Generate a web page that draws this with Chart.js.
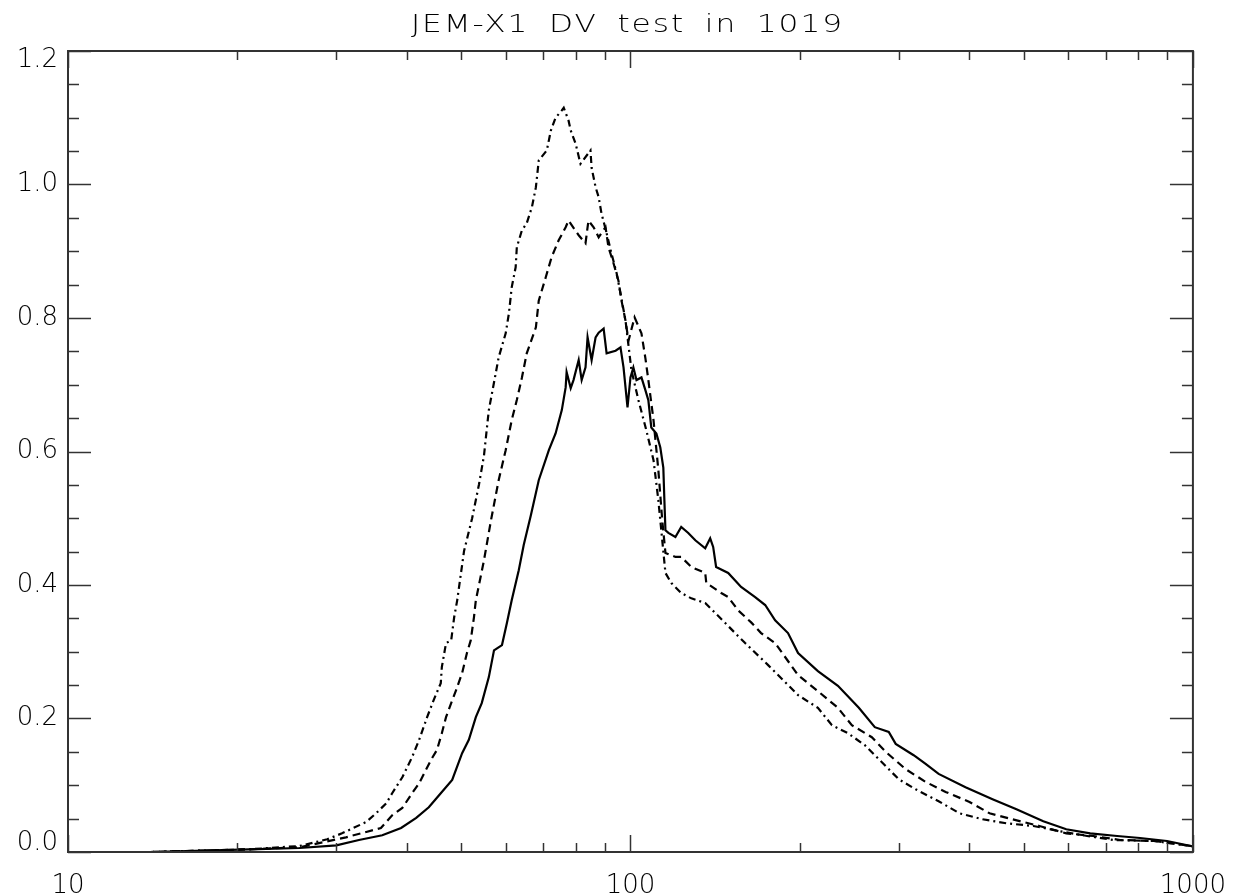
<!DOCTYPE html>
<html>
<head>
<meta charset="utf-8">
<title>JEM-X1 DV test in 1019</title>
<script src="https://cdn.jsdelivr.net/npm/chart.js@4.4.1/dist/chart.umd.min.js"></script>
<style>
  html, body { margin: 0; padding: 0; background: #fff; }
  canvas { display: block; }
</style>
</head>
<body>
<canvas id="chart" width="1245" height="896"></canvas>
<script>
// Title and axis ticks
const titleText = 'JEM-X1 DV test in 1019';
const xTickValues = [10, 100, 1000];
const xTickLabels = ['10', '100', '1000'];
const xMinorTicks = [20, 30, 40, 50, 60, 70, 80, 90, 200, 300, 400, 500, 600, 700, 800, 900];
const yTickValues = [0, 0.2, 0.4, 0.6, 0.8, 1.0, 1.2];
const yTickLabels = ['0.0', '0.2', '0.4', '0.6', '0.8', '1.0', '1.2'];
const yMinorTicks = [0.05, 0.1, 0.15, 0.25, 0.3, 0.35, 0.45, 0.5, 0.55, 0.65, 0.7, 0.75,
                     0.85, 0.9, 0.95, 1.05, 1.1, 1.15];

// Solid curve
const solidX = [10, 14, 21, 25.8, 30, 32.9, 36.2, 39.1, 41.6, 43.8,
                46, 48.2, 50.2, 51.6, 53.1, 54.4, 56, 57.2, 59.1, 60.3,
                61.5, 63.3, 64.6, 66.5, 68.7, 71.6, 73.6, 75.5, 76.7, 77,
                78.3, 79.2, 80.9, 81.9, 83.2, 83.9, 85.3, 86.7, 87.8, 89.6,
                90.7, 94.1, 96, 97.2, 98.8, 100, 101.2, 102.5, 104.6, 106.3,
                107.6, 108.9, 111.2, 113, 114.4, 114.9, 115.4, 116.8, 120.2, 123.1,
                126.7, 130.4, 135.8, 138.6, 140.3, 142, 149.2, 157.3, 166.6, 173.6,
                180.8, 190.6, 198.6, 215.4, 233.8, 254.7, 271.9, 287.9, 296.2, 318.8,
                334.8, 353.1, 394.2, 440.3, 485.6, 542, 595.4, 656.8, 733.3, 805.4,
                899.4, 992, 1000];
const solidY = [0, 0, 0.004, 0.006, 0.010, 0.018, 0.025, 0.036, 0.051, 0.067,
                0.088, 0.108, 0.148, 0.168, 0.202, 0.223, 0.262, 0.302, 0.310, 0.343,
                0.377, 0.422, 0.460, 0.504, 0.557, 0.602, 0.627, 0.662, 0.696, 0.719,
                0.695, 0.707, 0.737, 0.707, 0.726, 0.771, 0.737, 0.771, 0.778, 0.784,
                0.747, 0.751, 0.756, 0.726, 0.666, 0.711, 0.726, 0.707, 0.711, 0.692,
                0.677, 0.636, 0.627, 0.606, 0.576, 0.527, 0.482, 0.478, 0.472, 0.487,
                0.478, 0.467, 0.455, 0.470, 0.457, 0.427, 0.418, 0.397, 0.382, 0.370,
                0.347, 0.328, 0.298, 0.271, 0.249, 0.216, 0.187, 0.180, 0.162, 0.145,
                0.132, 0.117, 0.097, 0.079, 0.064, 0.046, 0.034, 0.028, 0.024, 0.021,
                0.0165, 0.009, 0.008];

// Dashed curve
const dashedX = [10, 14, 21, 25.8, 31.2, 33.9, 36, 37.7, 39.3, 40.9,
                 42.1, 44.2, 45.3, 46.2, 47, 48, 49, 50.2, 51.2, 52,
                 52.7, 53.1, 54.9, 56.5, 58.3, 60, 61.5, 62.8, 64.1, 65.4,
                 67.9, 68.7, 70.7, 72.4, 74.5, 76.7, 77.6, 80.9, 83.2, 84.2,
                 86, 87.8, 90.3, 91.4, 93.3, 95.2, 96.4, 98, 99.2, 101.7,
                 104.6, 106.3, 107.6, 109.9, 112.1, 113.9, 115.4, 120.2, 123.1, 128.3,
                 135.8, 136.4, 145, 149.2, 155.4, 163.9, 170.7, 180.8, 198.6, 215.4,
                 233.8, 247.5, 268.6, 284.4, 308.6, 334.8, 363.3, 400.7, 434.9, 477.7,
                 533.3, 595.4, 664.9, 742.4, 853, 992, 1000];
const dashedY = [0, 0, 0.004, 0.007, 0.022, 0.030, 0.036, 0.055, 0.066, 0.088,
                 0.103, 0.138, 0.153, 0.178, 0.202, 0.223, 0.243, 0.268, 0.298, 0.317,
                 0.352, 0.377, 0.437, 0.497, 0.557, 0.602, 0.647, 0.677, 0.710, 0.747,
                 0.786, 0.826, 0.861, 0.891, 0.916, 0.936, 0.946, 0.924, 0.912, 0.946,
                 0.936, 0.921, 0.936, 0.906, 0.882, 0.856, 0.826, 0.796, 0.766, 0.801,
                 0.777, 0.740, 0.707, 0.647, 0.572, 0.497, 0.448, 0.442, 0.442, 0.427,
                 0.418, 0.403, 0.388, 0.382, 0.362, 0.344, 0.328, 0.313, 0.265, 0.241,
                 0.216, 0.190, 0.172, 0.150, 0.124, 0.105, 0.090, 0.075, 0.058, 0.049,
                 0.039, 0.028, 0.024, 0.018, 0.0165, 0.009, 0.008];

// Dash-dot curve
const dashDotX = [10, 14, 21, 25.8, 28.9, 30.7, 33.9, 35.3, 36.8, 37.7,
                  39.3, 40.9, 42.1, 43.5, 44.7, 46, 46.2, 47, 48, 48.6,
                  49.2, 50.6, 52.3, 53.8, 54.9, 56, 57.6, 58.3, 60, 60.8,
                  61.5, 62.5, 62.8, 64.1, 65.4, 66.8, 67.9, 68.7, 71, 72.2,
                  73.6, 75.5, 76.1, 77.6, 78.3, 79.9, 81.5, 84.9, 85.3, 86.7,
                  87.8, 88.8, 90.7, 92.5, 94.5, 96, 98, 100.4, 103.3, 106.7,
                  109.9, 112.1, 113.9, 115.4, 118.2, 123.1, 128.3, 135.8, 141.5, 147.4,
                  153.5, 159.9, 175.7, 198.6, 215.4, 228.1, 243.5, 261.1, 276.4, 299.9,
                  321.4, 353.1, 384.7, 422.6, 466.2, 520.4, 581, 648.6, 721.5, 853,
                  992, 1000];
const dashDotY = [0, 0, 0.004, 0.009, 0.019, 0.028, 0.045, 0.058, 0.073, 0.088,
                  0.112, 0.142, 0.168, 0.202, 0.228, 0.253, 0.277, 0.313, 0.317, 0.352,
                  0.377, 0.451, 0.500, 0.551, 0.594, 0.662, 0.717, 0.741, 0.777, 0.807,
                  0.846, 0.876, 0.906, 0.931, 0.942, 0.966, 0.996, 1.036, 1.051, 1.081,
                  1.100, 1.111, 1.115, 1.096, 1.081, 1.061, 1.031, 1.051, 1.025, 0.996,
                  0.981, 0.957, 0.927, 0.897, 0.867, 0.837, 0.796, 0.722, 0.677, 0.632,
                  0.587, 0.527, 0.467, 0.418, 0.403, 0.388, 0.380, 0.373, 0.358, 0.343,
                  0.328, 0.313, 0.280, 0.235, 0.216, 0.190, 0.178, 0.160, 0.139, 0.109,
                  0.094, 0.076, 0.058, 0.049, 0.043, 0.039, 0.031, 0.024, 0.018, 0.0165,
                  0.009, 0.008];

function toPoints(xs, ys) {
    return xs.map((x, i) => ({ x: x, y: ys[i] }));
}

const labelFont = { family: '"DejaVu Sans", sans-serif', size: 26, weight: '200' };

// IDL style box: frame plus inward ticks on all four sides
const idlFrame = {
    id: 'idlFrame',
    beforeDraw(chart) {
        // IDL keeps the end labels of the y axis inside the box
        const items = chart.scales.y.getLabelItems();
        items.forEach(it => {
            if (it._moved) return;
            const t = it.options ? it.options.translation : it.translation;
            if (it.label === yTickLabels[0]) t[1] -= 9;
            if (it.label === yTickLabels[yTickLabels.length - 1]) t[1] += 9;
            it._moved = true;
        });
    },
    afterDatasetsDraw(chart) {
        const { ctx, chartArea: a, scales } = chart;
        const line = (x1, y1, x2, y2) => {
            ctx.beginPath();
            ctx.moveTo(x1, y1);
            ctx.lineTo(x2, y2);
            ctx.stroke();
        };
        ctx.save();
        ctx.strokeStyle = '#333';
        ctx.lineWidth = 1.5;
        const xTick = (v, len) => {
            const px = Math.round(scales.x.getPixelForValue(v)) + 0.5;
            line(px, a.bottom, px, a.bottom - len);
            line(px, a.top, px, a.top + len);
        };
        const yTick = (v, len) => {
            const py = Math.round(scales.y.getPixelForValue(v)) + 0.5;
            line(a.left, py, a.left + len, py);
            line(a.right, py, a.right - len, py);
        };
        xTickValues.forEach(v => xTick(v, 17));
        xMinorTicks.forEach(v => xTick(v, 9));
        yTickValues.forEach(v => yTick(v, 23));
        yMinorTicks.forEach(v => yTick(v, 11));

        ctx.lineWidth = 2;
        ctx.strokeRect(a.left, a.top, a.right - a.left, a.bottom - a.top);
        ctx.restore();
    },
    afterDraw(chart) {
        // Title, widened like the plotting font of the original
        const { ctx, chartArea: a } = chart;
        ctx.save();
        ctx.font = '200 24px "DejaVu Sans", sans-serif';
        ctx.fillStyle = '#000';
        ctx.textAlign = 'center';
        ctx.textBaseline = 'alphabetic';
        if ('letterSpacing' in ctx) ctx.letterSpacing = '1.5px';
        if ('wordSpacing' in ctx) ctx.wordSpacing = '6px';
        ctx.translate((a.left + a.right) / 2 - 3, 32);
        ctx.scale(1.3, 1);
        ctx.fillText(titleText, 0, 0);
        ctx.restore();
    }
};

const ctx = document.getElementById('chart').getContext('2d');

new Chart(ctx, {
    type: 'line',
    data: {
        datasets: [
            {
                label: 'solid',
                data: toPoints(solidX, solidY),
                borderColor: '#000',
                borderWidth: 2.2
            },
            {
                label: 'dashed',
                data: toPoints(dashedX, dashedY),
                borderColor: '#000',
                borderWidth: 2.2,
                borderDash: [8, 5]
            },
            {
                label: 'dash-dot',
                data: toPoints(dashDotX, dashDotY),
                borderColor: '#000',
                borderWidth: 2.2,
                borderDash: [7, 4, 2, 4]
            }
        ]
    },
    options: {
        responsive: false,
        animation: false,
        layout: { padding: { top: 51, right: 49, left: 0, bottom: 0 } },
        elements: {
            point: { radius: 0 },
            line: { tension: 0, fill: false }
        },
        plugins: {
            legend: { display: false },
            tooltip: { enabled: false },
            title: { display: false }
        },
        scales: {
            x: {
                type: 'logarithmic',
                min: 10,
                max: 1000,
                grid: { display: false, drawTicks: false },
                border: { display: false },
                afterBuildTicks: scale => {
                    scale.ticks = xTickValues.map(v => ({ value: v, major: true }));
                },
                afterFit: scale => { scale.height = 44; },
                ticks: {
                    font: labelFont,
                    color: '#000',
                    padding: 19,
                    autoSkip: false,
                    maxRotation: 0,
                    callback: v => xTickLabels[xTickValues.indexOf(v)]
                }
            },
            y: {
                type: 'linear',
                min: 0,
                max: 1.2,
                grid: { display: false, drawTicks: false },
                border: { display: false },
                afterBuildTicks: scale => {
                    scale.ticks = yTickValues.map(v => ({ value: v }));
                },
                afterFit: scale => { scale.width = 68; },
                ticks: {
                    font: labelFont,
                    color: '#000',
                    padding: 10,
                    autoSkip: false,
                    callback: v => yTickLabels[yTickValues.indexOf(v)]
                }
            }
        }
    },
    plugins: [idlFrame]
});
</script>
</body>
</html>
